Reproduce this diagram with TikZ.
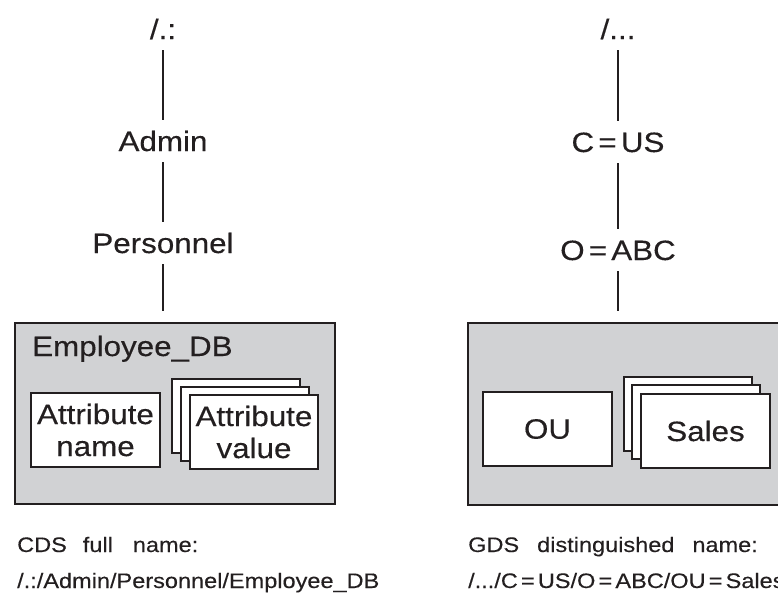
\documentclass[tikz,border=0pt]{standalone}
\usepackage{fontspec}
\setmainfont{Liberation Sans}[FakeStretch=1.12, FakeBold=0.3]
\usetikzlibrary{positioning}
\definecolor{panelgray}{RGB}{209,210,212}
\definecolor{inkline}{RGB}{35,31,32}
\newcommand{\eqsign}{\kern0.15em=\kern0.15em}

\begin{document}
\begin{tikzpicture}[x=1pt, y=-1pt,
  lbl/.style={anchor=base, inner sep=0pt, text height=20pt, text depth=0pt, text=inkline, font=\fontsize{28}{32}\selectfont},
  link/.style={draw=inkline, line width=2pt, shorten <=11pt, shorten >=11pt},
  panel/.style={draw=inkline, fill=panelgray, line width=2.3pt, anchor=north west, inner sep=0pt},
  card/.style={draw=inkline, fill=white, line width=2pt, anchor=north west, inner sep=0pt, minimum width=128pt, minimum height=74pt, align=center, text=inkline, font=\fontsize{28}{32}\selectfont},
  caption/.style={anchor=base west, inner sep=0pt, text=inkline, font=\fontsize{21}{24}\selectfont}]
\useasboundingbox (0,0) rectangle (778,600);

% Nodes (CDS side)
\node[lbl] (cdsroot) at (163,39) {/.:};
\node[lbl] (admin) at (163,151) {Admin};
\node[lbl] (personnel) at (163,253) {Personnel};
\node[panel, minimum width=320pt, minimum height=181pt] (cdsbox) at (14,322) {};
\node[anchor=base west, inner sep=0pt, text=inkline, font=\fontsize{28}{32}\selectfont] (empdb) at (32,356) {Employee\_DB};
\node[card, minimum width=129pt] (attrname) at (30,392) {Attribute\\name};
\foreach \k/\dx/\dy in {2/-18/-16, 1/-9/-8}
  \node[card] (attrvalue\k) at (189+\dx,394+\dy) {};
\node[card] (attrvalue) at (189,394) {Attribute\\value};

% Nodes (GDS side)
\node[lbl] (gdsroot) at (618,39) {/...};
\node[lbl] (country) at (618,152) {C\eqsign US};
\node[lbl] (org) at (618,260) {O\eqsign ABC};
\node[panel, minimum width=340pt, minimum height=182pt] (gdsbox) at (467,322) {};
\node[card, minimum width=129pt] (ou) at (482,391) {OU};
\foreach \k/\dx/\dy in {2/-17/-17, 1/-9/-9}
  \node[card] (sales\k) at (640+\dx,393+\dy) {};
\node[card, minimum width=129pt] (sales) at (640,393) {Sales};

% Captions
\node[caption] (cdstitle) at (17,552) {CDS\hspace{16pt}full\hspace{20pt}name:};
\node[caption] (cdsname) at (17,588) {/.:/Admin/Personnel/Employee\_DB};
\node[caption] (gdstitle) at (468,552) {GDS\hspace{18pt}distinguished\hspace{18pt}name:};
\node[caption] (gdsname) at (468,588) {/.../C\eqsign US/O\eqsign ABC/OU\eqsign Sales};

% Edges
\draw[link] (cdsroot) -- (admin);
\draw[link] (admin) -- (personnel);
\draw[link] (personnel.south) -- (personnel.south |- cdsbox.north);
\draw[link] (gdsroot) -- (country);
\draw[link] (country) -- (org);
\draw[link] (org.south) -- (org.south |- gdsbox.north);
\end{tikzpicture}
\end{document}
